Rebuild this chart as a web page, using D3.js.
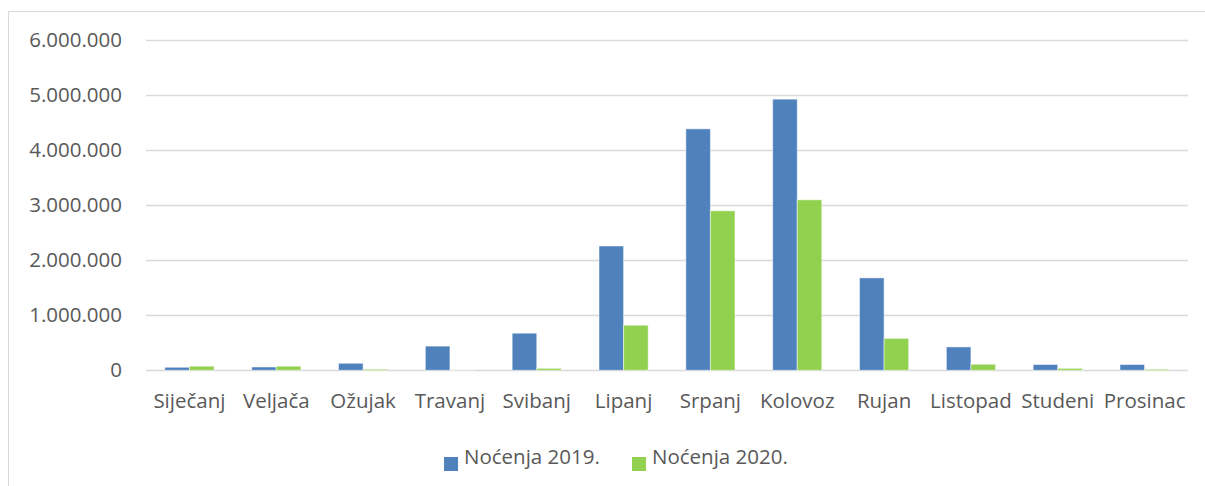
<!DOCTYPE html>
<meta charset="utf-8">
<head>
    <title></title>
    <script src="https://d3js.org/d3.v7.min.js"></script>
</head>
<style>
    body{ margin:0; background:#fff; }
    text{
      font-family: "Open Sans", sans-serif;
      fill:#595959;
    }
</style>
<svg width="1205" height="486"></svg>
<script>
    var months = ['Siječanj','Veljača','Ožujak','Travanj','Svibanj','Lipanj','Srpanj','Kolovoz','Rujan','Listopad','Studeni','Prosinac'];
    var series = ['Noćenja 2019.','Noćenja 2020.'];
    var nights2019 = [55000, 60000, 128000, 440000, 675000, 2260000, 4390000, 4930000, 1680000, 425000, 105000, 105000];
    var nights2020 = [75000, 75000, 20000, 3000, 35000, 820000, 2900000, 3100000, 580000, 110000, 35000, 20000];
    var yTicks = [0, 1000000, 2000000, 3000000, 4000000, 5000000, 6000000];
    var colors = ['#4f81bd', '#92d050'];

    var svg = d3.select('svg');

    // chart frame (only left and top edges are in view)
    svg.append('path')
        .attr('d', 'M8.5,486V11.5H1205')
        .attr('fill', 'none')
        .attr('stroke', '#d9d9d9')
        .attr('stroke-width', 1);

    var plotLeft = 146, plotRight = 1188, plotTop = 40.3, plotBottom = 370.3;

    var x = d3.scaleBand().domain(months).range([plotLeft, plotRight]).paddingInner(0.434).paddingOuter(0.217);
    var x1 = d3.scaleBand().domain([0, 1]).range([0, x.bandwidth()]);
    var y = d3.scaleLinear().domain([0, 6000000]).range([plotBottom, plotTop]);

    var fmt = function(d){ return d3.format(',')(d).replace(/,/g, '.'); };

    // gridlines
    svg.append('g').selectAll('line').data(yTicks).enter().append('line')
        .attr('x1', plotLeft).attr('x2', plotRight)
        .attr('y1', function(d){ return Math.round(y(d)) + 0.5; })
        .attr('y2', function(d){ return Math.round(y(d)) + 0.5; })
        .attr('stroke', '#d9d9d9')
        .attr('stroke-width', 1.3);

    // y labels
    svg.append('g').selectAll('text').data(yTicks).enter().append('text')
        .attr('x', 122)
        .attr('y', function(d){ return y(d); })
        .attr('dy', '0.35em')
        .attr('text-anchor', 'end')
        .style('font-size', '20.5px')
        .text(fmt);

    // bars
    var data = months.map(function(m, i){ return {month: m, values: [nights2019[i], nights2020[i]]}; });
    var groups = svg.append('g').selectAll('g').data(data).enter().append('g')
        .attr('transform', function(d){ return 'translate(' + x(d.month) + ',0)'; });
    groups.selectAll('rect').data(function(d){ return d.values; }).enter().append('rect')
        .attr('x', function(d, i){ return x1(i); })
        .attr('width', x1.bandwidth())
        .attr('y', function(d){ return y(d); })
        .attr('height', function(d){ return plotBottom - y(d); })
        .attr('fill', function(d, i){ return colors[i]; })
        .attr('stroke', 'rgba(255,255,255,0.5)')
        .attr('stroke-width', 1);

    // x labels
    svg.append('g').selectAll('text').data(months).enter().append('text')
        .attr('x', function(d){ return x(d) + x.bandwidth() / 2; })
        .attr('y', 408)
        .attr('text-anchor', 'middle')
        .style('font-size', '20.5px')
        .text(function(d){ return d; });

    // legend
    var legendX = [444, 632];
    var legend = svg.append('g').selectAll('g').data(series).enter().append('g')
        .attr('transform', function(d, i){ return 'translate(' + legendX[i] + ',0)'; });
    legend.append('rect')
        .attr('x', 0).attr('y', 457)
        .attr('width', 14).attr('height', 14)
        .attr('fill', function(d, i){ return colors[i]; });
    legend.append('text')
        .attr('x', 20).attr('y', 464)
        .style('font-size', '20.5px')
        .text(function(d){ return d; });
</script>
